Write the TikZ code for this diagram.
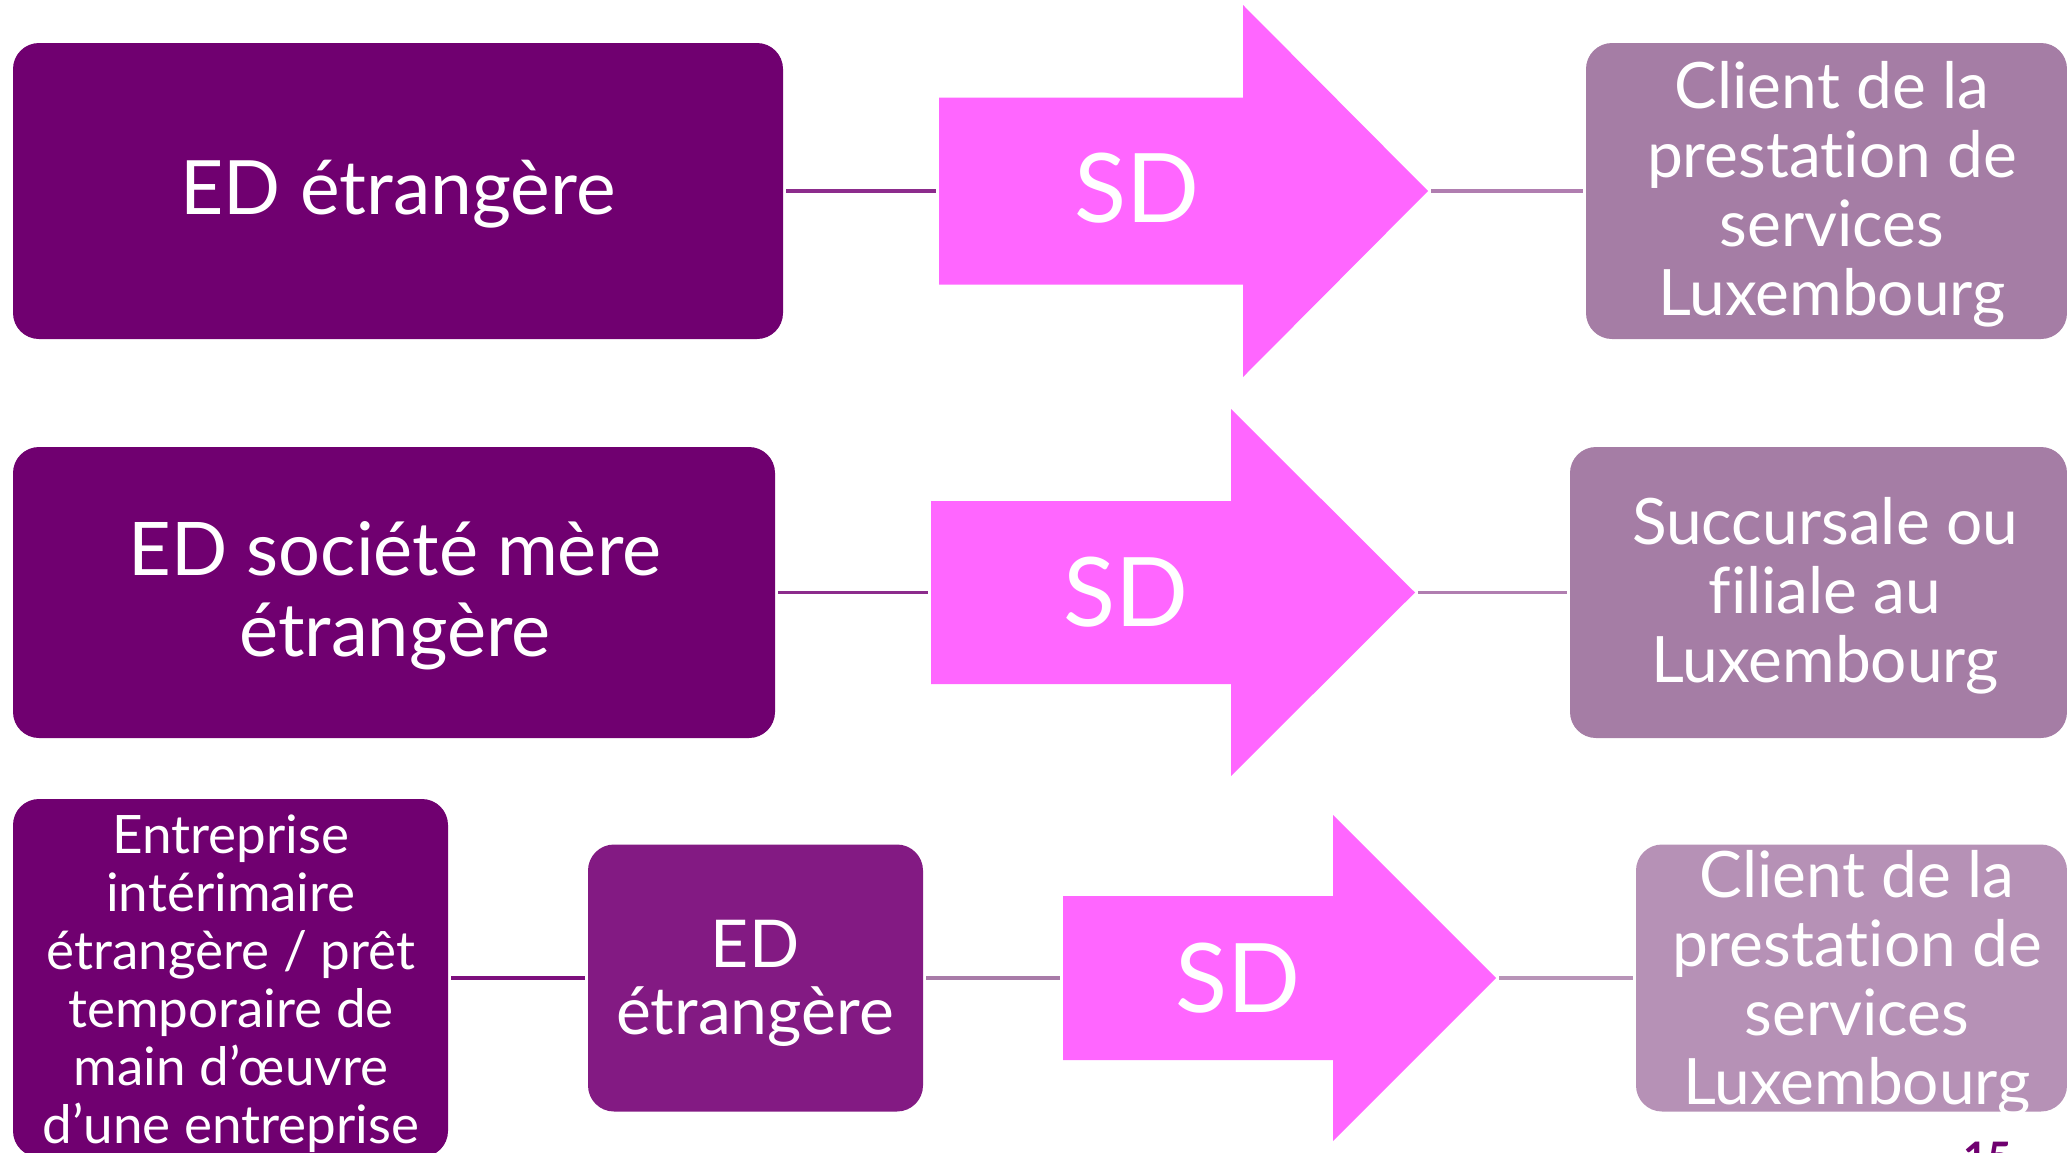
\documentclass[tikz,border=0pt]{standalone}
\usepackage{fontspec}
\setmainfont{Lato}[Ligatures={NoCommon}]
\definecolor{dkpurple}{HTML}{700070}
\definecolor{midpurple}{HTML}{831A83}
\definecolor{pinkarrow}{HTML}{FF66FF}
\definecolor{mauve}{HTML}{A57DA5}
\definecolor{lightmauve}{HTML}{B691B6}
\definecolor{lineA}{HTML}{8C2C8C}
\definecolor{lineB}{HTML}{B07EB0}
\definecolor{lineC}{HTML}{7D0F7D}
\definecolor{lineD}{HTML}{A87BA8}
\definecolor{lineE}{HTML}{B894B8}
\tikzset{
  box/.style={rounded corners=26pt, inner sep=0pt, draw=none},
  txt/.style={text=white, align=center, inner sep=0pt},
  link/.style={line width=3.5pt, shorten <=3pt, shorten >=3pt},
  sdlabel/.style={text=white, inner sep=0pt, font=\fontsize{96}{100}\selectfont},
}
\begin{document}
\begin{tikzpicture}[x=1pt,y=-1pt]
\useasboundingbox (0,0) rectangle (2067,1152);
\clip (0,0) rectangle (2067,1152);

% ---------- Row 1 ----------
\node[box, fill=dkpurple, minimum width=770pt, minimum height=296pt] (A1) at (398,191) {};
\node[txt, anchor=base, font=\fontsize{75}{81}\selectfont] (A1t) at (398,214) {ED étrangère};
\fill[pinkarrow] (939,97.5) -- (1243,97.5) -- (1243,5) -- (1428,191) -- (1243,377) -- (1243,284.5) -- (939,284.5) -- cycle;
\coordinate (R1t) at (939,191);
\coordinate (R1h) at (1428,191);
\node[sdlabel, anchor=base] (S1) at (1137,222) {SD};
\node[box, fill=mauve, minimum width=481pt, minimum height=296pt] (C1) at (1826.5,191) {};
\node[txt, font=\fontsize{64}{69}\selectfont] (C1t) at (1832,194) {Client de la\\prestation de\\services\\Luxembourg};
\draw[link, lineA] (A1.east) -- (R1t);
\draw[link, lineB] (R1h) -- (C1.west);

% ---------- Row 2 ----------
\node[box, fill=dkpurple, minimum width=762pt, minimum height=291pt] (A2) at (394,592.5) {};
\node[txt, font=\fontsize{74}{81}\selectfont] (A2t) at (395,596) {ED société mère\\étrangère};
\fill[pinkarrow] (931,501) -- (1231,501) -- (1231,409) -- (1415,592.5) -- (1231,776) -- (1231,684) -- (931,684) -- cycle;
\coordinate (R2t) at (931,592.5);
\coordinate (R2h) at (1415,592.5);
\node[sdlabel, anchor=base] (S2) at (1126,626) {SD};
\node[box, fill=mauve, minimum width=497pt, minimum height=291pt] (C2) at (1818.5,592.5) {};
\node[txt, font=\fontsize{64}{69}\selectfont] (C2t) at (1825,595.5) {Succursale ou\\filiale au\\Luxembourg};
\draw[link, lineA] (A2.east) -- (R2t);
\draw[link, lineB] (R2h) -- (C2.west);

% ---------- Row 3 ----------
\node[box, fill=dkpurple, minimum width=435pt, minimum height=358pt] (A3) at (230.5,978) {};
\node[txt, font=\fontsize{53}{58}\selectfont] (A3t) at (231,983.5) {Entreprise\\intérimaire\\étrangère / prêt\\temporaire de\\main d’œuvre\\d’une entreprise};
\node[box, fill=midpurple, minimum width=335pt, minimum height=267pt] (B3) at (755.5,978) {};
\node[txt, font=\fontsize{66}{67}\selectfont] (B3t) at (755,983.5) {ED\\étrangère};
\fill[pinkarrow] (1063,896) -- (1333,896) -- (1333,815) -- (1496,978) -- (1333,1141) -- (1333,1060) -- (1063,1060) -- cycle;
\coordinate (R3t) at (1063,978);
\coordinate (R3h) at (1496,978);
\node[sdlabel, anchor=base] (S3) at (1238,1012) {SD};
\node[box, fill=lightmauve, minimum width=431pt, minimum height=267pt] (C3) at (1851.5,978) {};
\node[txt, font=\fontsize{64}{69}\selectfont] (C3t) at (1857,983.5) {Client de la\\prestation de\\services\\Luxembourg};
\draw[link, lineC] (A3.east) -- (B3.west);
\draw[link, lineD] (B3.east) -- (R3t);
\draw[link, lineE] (R3h) -- (C3.west);

% page number (cut by the page edge)
\node[anchor=base west, inner sep=0pt, text=dkpurple, font=\fontsize{42}{44}\selectfont\bfseries] (pg) at (1963,1172) {15};
\end{tikzpicture}
\end{document}
